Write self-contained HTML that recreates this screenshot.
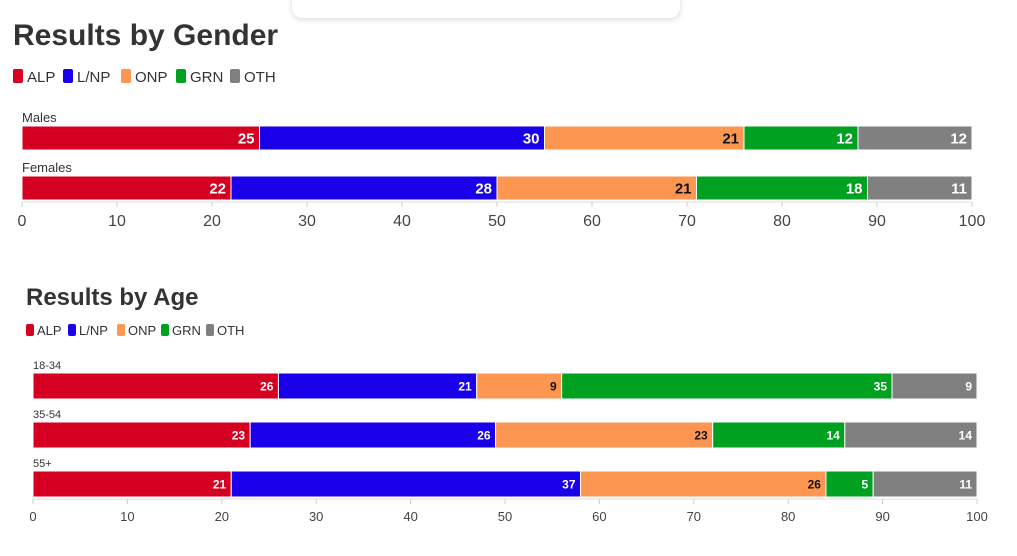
<!DOCTYPE html>
<html><head><meta charset="utf-8"><style>
body{margin:0;width:1017px;height:556px;background:#fff;overflow:hidden;position:relative;font-family:"Liberation Sans",sans-serif;color:#333}
.a{position:absolute}
</style></head><body>
<div class="a" style="left:292px;top:-10px;width:388px;height:28px;border-radius:10px;background:#fff;box-shadow:0 2px 6px rgba(0,0,0,0.15)"></div>
<svg class="a" style="left:0;top:0" width="1017" height="556" font-family="Liberation Sans, sans-serif">
<text x="13" y="45" font-size="30" font-weight="bold" fill="#333">Results by Gender</text>
<g font-size="15" fill="#333">
<rect x="13" y="69" width="10" height="14" rx="2" fill="#d50021"/><text x="27" y="82">ALP</text>
<rect x="63" y="69" width="10" height="14" rx="2" fill="#1a00e8"/><text x="77" y="82">L/NP</text>
<rect x="121" y="69" width="10" height="14" rx="2" fill="#fd9650"/><text x="135" y="82">ONP</text>
<rect x="176" y="69" width="10" height="14" rx="2" fill="#00a020"/><text x="190" y="82">GRN</text>
<rect x="230" y="69" width="10" height="14" rx="2" fill="#808080"/><text x="244" y="82">OTH</text>
</g>
<text x="26" y="305" font-size="24" font-weight="bold" fill="#333">Results by Age</text>
<g font-size="13" fill="#333">
<rect x="26" y="324" width="8" height="12" rx="2" fill="#d50021"/><text x="37" y="335">ALP</text>
<rect x="68" y="324" width="8" height="12" rx="2" fill="#1a00e8"/><text x="79" y="335">L/NP</text>
<rect x="117" y="324" width="8" height="12" rx="2" fill="#fd9650"/><text x="128" y="335">ONP</text>
<rect x="161" y="324" width="8" height="12" rx="2" fill="#00a020"/><text x="172" y="335">GRN</text>
<rect x="206" y="324" width="8" height="12" rx="2" fill="#808080"/><text x="217" y="335">OTH</text>
</g>
</svg>
<script>
var C=["#d50021","#1a00e8","#fd9650","#00a020","#808080"],TC=["#fff","#fff","#111","#fff","#fff"];
var svg=document.querySelector('svg'),ns="http://www.w3.org/2000/svg";
function el(t,a,txt){var e=document.createElementNS(ns,t);for(var k in a)e.setAttribute(k,a[k]);if(txt!=null)e.textContent=txt;svg.appendChild(e);return e;}
function chart(x0,x1,rows,ys,h,lab,fs,lfs,tickY,tfs){
 var s=(x1-x0)/100;
 el('line',{x1:x0,x2:x1,y1:ys[ys.length-1]+h+2,y2:ys[ys.length-1]+h+2,stroke:'#ddd','stroke-width':1});
 for(var i=0;i<=10;i++){var x=x0+i*10*s;el('line',{x1:x,x2:x,y1:ys[ys.length-1]+h+2,y2:ys[ys.length-1]+h+7,stroke:'#ccc'});
  el('text',{x:x,y:tickY,'font-size':tfs,'text-anchor':'middle',fill:'#444'},i*10);}
 rows.forEach(function(r,j){var y=ys[j],c=0;
  el('text',{x:x0,y:y-4,'font-size':lfs,fill:'#333'},lab[j]);
  r.forEach(function(v,k){var xa=x0+c*s;c+=v;var xb=x0+c*s;
   el('rect',{x:xa,y:y,width:xb-xa,height:h,fill:C[k],stroke:'#fff','stroke-width':1});
   el('text',{x:xb-5,y:y+h/2+fs*0.36,'font-size':fs,'font-weight':'bold','text-anchor':'end',fill:TC[k]},v);
  });});
}
chart(22,972,[[25,30,21,12,12],[22,28,21,18,11]],[126,176],24,["Males","Females"],15,13,226,16);
chart(33,977,[[26,21,9,35,9],[23,26,23,14,14],[21,37,26,5,11]],[373,422,471],26,["18-34","35-54","55+"],12,11,521,13);
</script>
</body></html>
